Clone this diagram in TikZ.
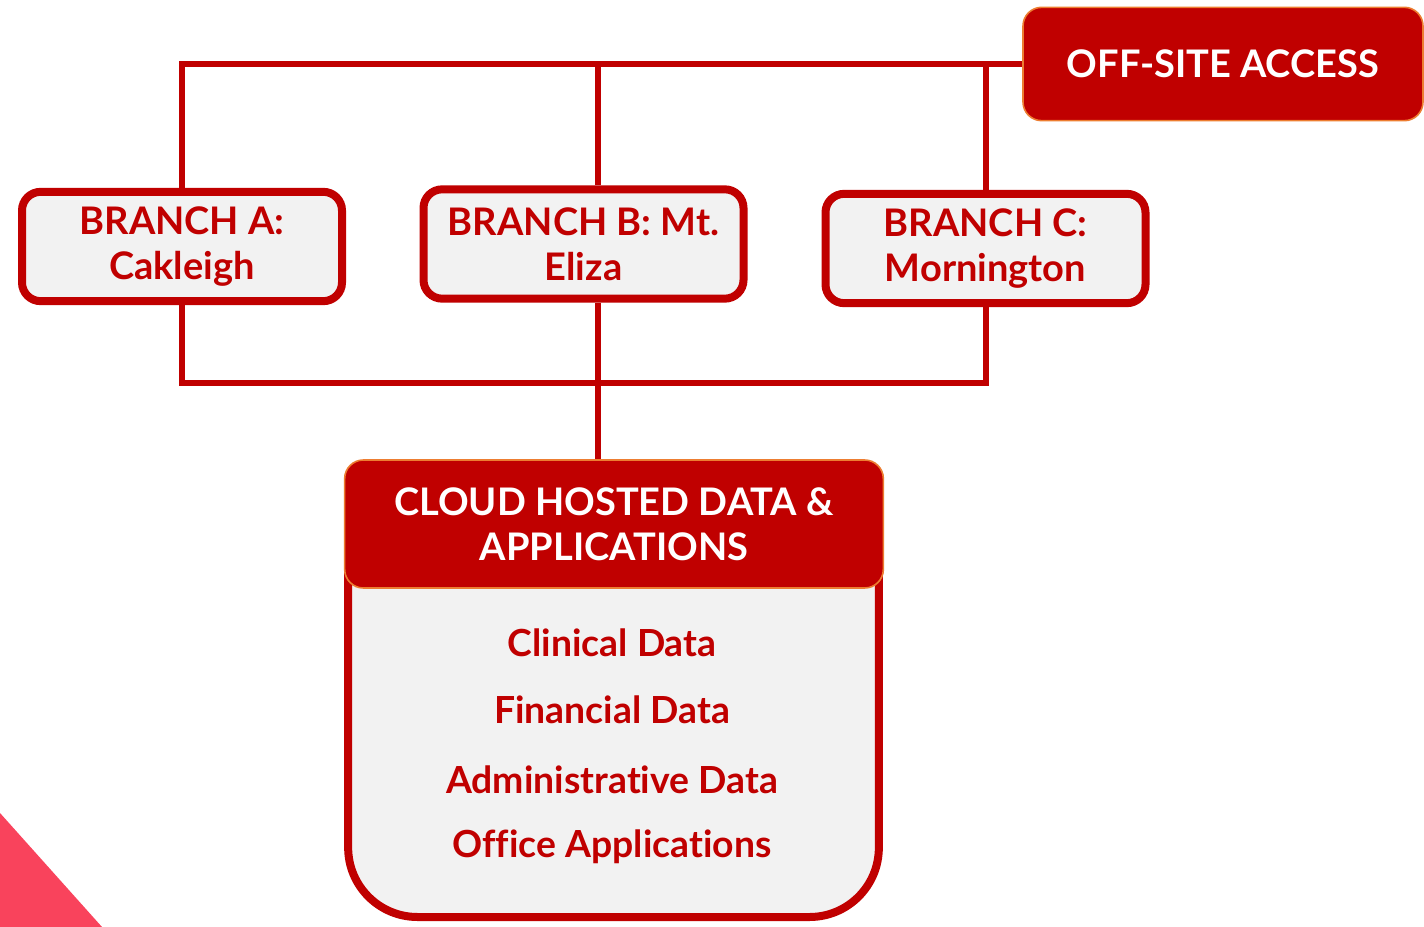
\documentclass[tikz,border=0pt]{standalone}
\usepackage{fontspec}
\setmainfont{Lato}[Ligatures={NoCommon}]
\usetikzlibrary{positioning,calc}

\definecolor{brickred}{RGB}{192,0,0}
\definecolor{boxgrey}{RGB}{242,242,242}
\definecolor{edgeorange}{RGB}{237,125,49}
\definecolor{cornerpink}{RGB}{249,67,92}

\tikzset{
	wire/.style={draw=brickred, line width=4.5pt},
	branchbox/.style={draw=brickred, line width=6pt, fill=boxgrey, rounded corners=14pt,
		minimum width=240pt, minimum height=82pt, text=brickred, align=center,
		font=\fontsize{28.5}{33.5}\selectfont\bfseries},
	headbox/.style={draw=edgeorange, line width=1.2pt, fill=brickred, rounded corners=14pt,
		text=white, align=center, font=\fontsize{28.5}{33.5}\selectfont\bfseries},
	itemtext/.style={text=brickred, font=\fontsize{28}{33}\selectfont\bfseries},
}

\begin{document}
\begin{tikzpicture}[x=0.75pt,y=0.75pt,yscale=-1,xscale=1]
	% page frame
	\path[fill=white] (0,0) rectangle (1424,927);
	\useasboundingbox (0,0) rectangle (1424,927);

	% pink corner
	\fill[cornerpink] (0,813) -- (102,927) -- (0,927) -- cycle;

	% Off-site access
	\node[headbox, minimum width=300pt, minimum height=85pt] (offsite) at (1223,64) {OFF-SITE ACCESS};

	% Branches
	\node[branchbox] (brA) at (182,246.5) {BRANCH A:\\Cakleigh};
	\node[branchbox] (brB) at (583.5,244) {BRANCH B: Mt.\\Eliza};
	\node[branchbox] (brC) at (985.5,248.5) {BRANCH C:\\Mornington};

	% Cloud body and header
	\node[draw=brickred, line width=6pt, fill=boxgrey, rounded corners=52pt,
		minimum width=398pt, minimum height=330pt] (cloud) at (613.5,697) {};
	\node[headbox, minimum width=404pt, minimum height=96pt] (cloudhead) at (614,524)
		{CLOUD HOSTED DATA \&\\APPLICATIONS};

	% Cloud contents
	\node[itemtext] (clinical) at (612,643) {Clinical Data};
	\node[itemtext] (financial) at (612,710) {Financial Data};
	\node[itemtext] (admin) at (612,780) {Administrative Data};
	\node[itemtext] (office) at (612,847) {Office Applications};

	% upper links
	\coordinate (topbus) at (598,66);
	\draw[wire] (brA.north) |- (offsite.west);
	\draw[wire] (brB.north -| topbus) -- (topbus);
	\draw[wire] (brC.north) -- (brC.north |- topbus);

	% lower links
	\coordinate (lowbus) at (598,383);
	\draw[wire] (brA.south) |- (lowbus) -| (brC.south);
	\draw[wire] (brB.south -| lowbus) -- (lowbus) -- (lowbus |- cloudhead.north);
\end{tikzpicture}
\end{document}
